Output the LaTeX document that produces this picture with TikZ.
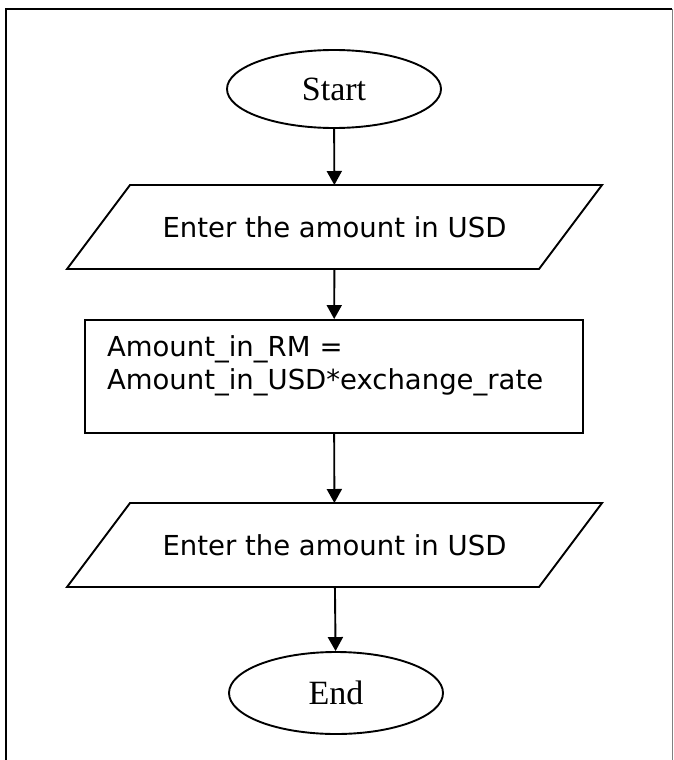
\documentclass[tikz,border=0pt]{standalone}
\usepackage{fontspec}
\setmainfont{Liberation Serif}
\newfontfamily\boxfont{DejaVu Sans}
\usetikzlibrary{shapes.geometric,arrows.meta}

\begin{document}
\begin{tikzpicture}[x=1pt,y=-1pt,line width=1.9pt,
    >={Triangle[width=15pt,length=14pt]},
    terminal/.style={ellipse,draw,inner sep=0pt,minimum width=214pt,
      font=\fontsize{34}{40}\selectfont},
    iotext/.style={rectangle,inner sep=0pt,outer sep=0pt,
      minimum width=472pt,minimum height=84pt,
      font=\boxfont\fontsize{27.5}{33}\selectfont},
    procbox/.style={rectangle,draw,align=left,text width=454pt,
      inner xsep=22pt,minimum height=113pt,
      font=\boxfont\fontsize{27.5}{33}\selectfont}]
    \newcommand\iobox[4]{
      \node[iotext] at (#1,#2) (#3) {#4};
      \draw ([xshift=31.5pt]#3.north west) -- ([xshift=31.5pt]#3.north east)
        -- ([xshift=-31.5pt]#3.south east) -- ([xshift=-31.5pt]#3.south west)
        -- cycle;
    }
    \useasboundingbox (0,0) rectangle (673,760);
    % page frame
    \draw (6,775) -- (6,9) -- (672,9);
    \draw[gray,line width=1pt] (672,9) -- (672,775);
    \node[terminal,minimum height=78pt] at (334,89) (start) {Start};
    \iobox{334.5}{227}{in}{Enter the amount in USD};
    \node[procbox] at (334,376.5) (calc)
      {Amount\_in\_RM =\\Amount\_in\_USD*exchange\_rate\\[-6pt]\mbox{}};
    \iobox{334.5}{545}{out}{Enter the amount in USD};
    \node[terminal,minimum height=82pt] at (336,693) (end) {End};
    \draw[->] (start) -- (in);
    \draw[->] (in) -- (calc);
    \draw[->] (calc) -- (out);
    \draw[->] (out) -- (end);
  \end{tikzpicture}
\end{document}
